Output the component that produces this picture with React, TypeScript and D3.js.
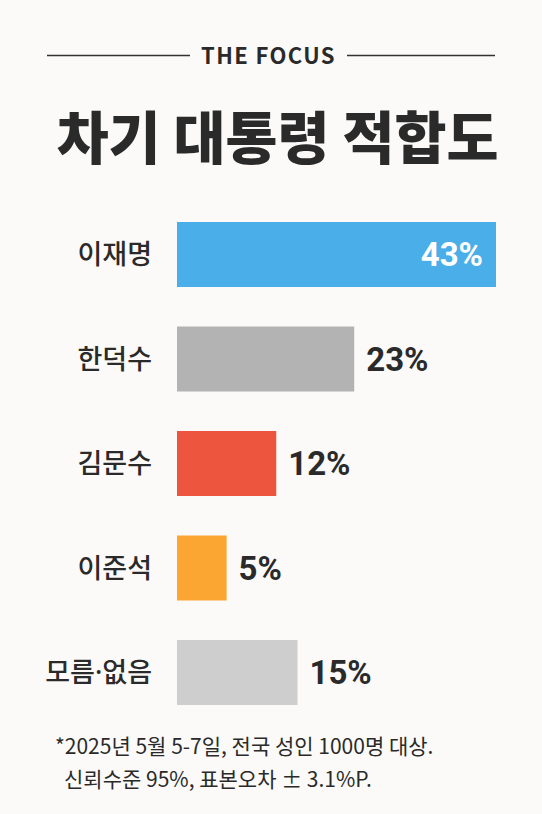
import React from "react";
import * as d3 from "d3";

const categories = ["이재명", "한덕수", "김문수", "이준석", "모름·없음"];
const values = [43, 23, 12, 5, 15];
const colors = ["#4aaee8", "#b3b3b3", "#ee553f", "#fba532", "#cecece"];
const valueLabels = values.map((v) => `${v}%`);
const brand = "THE FOCUS";
const title = "차기 대통령 적합도";
const notes = ["*2025년 5월 5-7일, 전국 성인 1000명 대상.", "신뢰수준 95%, 표본오차 ± 3.1%P."];

const W = 542;
const H = 814;
const FONT = "'Noto Sans CJK KR', 'Noto Sans', sans-serif";
const FONT_LATIN = "'Noto Sans', 'Noto Sans CJK KR', sans-serif";
const FONT_NUM = "Roboto, 'Noto Sans CJK KR', sans-serif";
const INK = "#2a2a2a";

export default function App() {
  const x = d3.scaleLinear().domain([-2, 43]).range([177, 496]);
  const y = d3
    .scaleBand<string>()
    .domain(categories)
    .range([222, 705])
    .paddingInner(0.378)
    .paddingOuter(0);
  const xStart = x.range()[0];

  return (
    <svg
      width={W}
      height={H}
      viewBox={`0 0 ${W} ${H}`}
      style={{ position: "absolute", left: 0, top: 0, display: "block" }}
    >
      <rect x={0} y={0} width={W} height={H} fill="#fbfaf8" />
      <line x1={47} x2={190} y1={55.5} y2={55.5} stroke="#333" strokeWidth={1.6} />
      <line x1={347} x2={495} y1={55.5} y2={55.5} stroke="#333" strokeWidth={1.6} />
      <text
        x={268.5}
        y={63.5}
        textAnchor="middle"
        fontFamily={FONT}
        fontWeight={700}
        fontSize={22}
        letterSpacing={1.4}
        fill={INK}
      >
        {brand}
      </text>
      <text
        x={277.5}
        y={159}
        textAnchor="middle"
        fontFamily={FONT}
        fontWeight={900}
        fontSize={56.5}
        fill={INK}
      >
        {title}
      </text>
      {categories.map((c, i) => {
        const by = y(c)!;
        const bh = y.bandwidth();
        const cy = by + bh / 2;
        const xe = x(values[i]);
        const inside = i === 0;
        return (
          <g key={c}>
            <rect x={xStart} y={by} width={xe - xStart} height={bh} fill={colors[i]} />
            <text
              x={152}
              y={cy}
              dy="0.36em"
              textAnchor="end"
              fontFamily={FONT_LATIN}
              fontWeight={500}
              fontSize={27}
              fill={INK}
            >
              {c}
            </text>
            <text
              x={inside ? xe - 13 : xe + 12}
              y={cy}
              dy="0.36em"
              textAnchor={inside ? "end" : "start"}
              fontFamily={FONT_NUM}
              fontWeight={700}
              fontSize={33}
              fill={inside ? "#ffffff" : INK}
            >
              {valueLabels[i]}
            </text>
          </g>
        );
      })}
      <text x={55} y={754} fontFamily={FONT} fontWeight={400} fontSize={21} fill={INK}>
        {notes[0]}
      </text>
      <text x={64} y={787} fontFamily={FONT} fontWeight={400} fontSize={21} fill={INK}>
        {notes[1]}
      </text>
    </svg>
  );
}
